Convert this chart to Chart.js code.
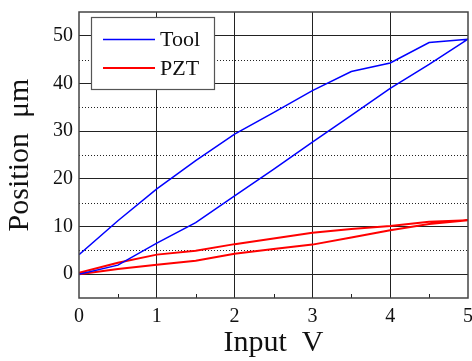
<!DOCTYPE html>
<html>
<head>
<meta charset="utf-8">
<title>Tool / PZT</title>
<script src="https://cdn.jsdelivr.net/npm/chart.js@4.4.1/dist/chart.umd.min.js"></script>
<style>
  body { margin: 0; background: #fff; }
  #wrap { width: 472px; height: 361px; }
</style>
</head>
<body>
<div id="wrap"><canvas id="grafico" width="472" height="361"></canvas></div>
<script>
// input voltage, going up then coming back down
const voltsUp = [0, 0.5, 1, 1.5, 2, 2.5, 3, 3.5, 4, 4.5, 5];
const voltsDown = [5, 4.5, 4, 3.5, 3, 2.5, 2, 1.5, 1, 0.5, 0];

// position in um
const toolUp = [0, 1.9, 6.5, 10.8, 16.4, 22.0, 27.7, 33.3, 39.0, 44.0, 49.3];
const toolDown = [49.3, 48.6, 44.3, 42.5, 38.5, 33.9, 29.4, 23.8, 17.9, 11.2, 4.1];
const pztUp = [0, 1.1, 2.0, 2.8, 4.3, 5.3, 6.2, 7.7, 9.2, 10.5, 11.3];
const pztDown = [11.3, 11.0, 10.1, 9.5, 8.7, 7.5, 6.3, 4.9, 4.1, 2.4, 0.3];

const xTicks = [0, 1, 2, 3, 4, 5];
const xMinorTicks = [0.5, 1.5, 2.5, 3.5, 4.5];
const yTicks = [0, 10, 20, 30, 40, 50];
const yMinorGrid = [5, 15, 25, 35, 45];

const serif = "'Liberation Serif', 'Times New Roman', serif";

function loop(up, down) {
    const ida = voltsUp.map((v, i) => ({ x: v, y: up[i] }));
    const vuelta = voltsDown.map((v, i) => ({ x: v, y: down[i] }));
    return ida.concat(vuelta);
}

// no extra room for the end labels, the frame goes edge to edge
function sinPadding(s) {
    s.paddingLeft = 0;
    s.paddingRight = 0;
    s.paddingTop = 0;
    s.paddingBottom = 0;
}

// dotted half-step lines, minor ticks and the frame
const extras = {
    id: 'extras',
    beforeDatasetsDraw(chart) {
        const { ctx, chartArea: a, scales } = chart;
        ctx.save();
        ctx.strokeStyle = '#222';
        ctx.lineWidth = 1;
        ctx.setLineDash([1, 2]);
        yMinorGrid.forEach(v => {
            const y = Math.round(scales.y.getPixelForValue(v)) + 0.5;
            ctx.beginPath();
            ctx.moveTo(a.left, y);
            ctx.lineTo(a.right, y);
            ctx.stroke();
        });
        ctx.setLineDash([]);
        xMinorTicks.forEach(v => {
            const x = Math.round(scales.x.getPixelForValue(v)) + 0.5;
            ctx.beginPath();
            ctx.moveTo(x, a.bottom);
            ctx.lineTo(x, a.bottom - 4);
            ctx.stroke();
        });
        ctx.restore();
    },
    afterDraw(chart) {
        const { ctx, chartArea: a } = chart;
        ctx.save();
        ctx.strokeStyle = '#444';
        ctx.lineWidth = 1.5;
        ctx.strokeRect(Math.round(a.left), Math.round(a.top), Math.round(a.right - a.left), Math.round(a.bottom - a.top));

        // legend box in the upper left corner
        ctx.fillStyle = '#fff';
        ctx.fillRect(91.5, 17.5, 123, 72);
        ctx.lineWidth = 1.2;
        ctx.strokeStyle = '#555';
        ctx.strokeRect(91.5, 17.5, 123, 72);
        ctx.font = '22px ' + serif;
        ctx.textBaseline = 'middle';
        chart.data.datasets.forEach((ds, i) => {
            const y = 39.5 + i * 28.5;
            ctx.strokeStyle = ds.borderColor;
            ctx.lineWidth = ds.borderWidth;
            ctx.beginPath();
            ctx.moveTo(103, y);
            ctx.lineTo(155, y);
            ctx.stroke();
            ctx.fillStyle = '#111';
            ctx.fillText(ds.label, 160, y + 1);
        });
        ctx.restore();
    }
};

let chart;

function dibujarGrafico() {
    const ctx = document.getElementById('grafico').getContext('2d');
    chart = new Chart(ctx, {
        type: 'line',
        data: {
            datasets: [{
                label: 'Tool',
                data: loop(toolUp, toolDown),
                borderColor: '#0000ff',
                borderWidth: 1.5
            }, {
                label: 'PZT',
                data: loop(pztUp, pztDown),
                borderColor: '#ff0000',
                borderWidth: 2
            }]
        },
        plugins: [extras],
        options: {
            responsive: false,
            animation: false,
            devicePixelRatio: 1,
            layout: { padding: { top: 12, right: 4, left: 0, bottom: 0 } },
            elements: { point: { radius: 0 }, line: { tension: 0 } },
            plugins: { legend: { display: false }, tooltip: { enabled: false } },
            scales: {
                x: {
                    type: 'linear',
                    min: 0,
                    max: 5,
                    afterBuildTicks: s => { s.ticks = xTicks.map(v => ({ value: v })); },
                    afterFit: s => { s.height = 63; sinPadding(s); },
                    ticks: { font: { family: serif, size: 20 }, color: '#111', padding: 7, maxRotation: 0 },
                    grid: {
                        drawTicks: false,
                        color: c => (c.tick && (c.tick.value === 0 || c.tick.value === 5)) ? 'rgba(0,0,0,0)' : '#222'
                    },
                    border: { display: false },
                    title: { display: true, text: 'Input  V', font: { family: serif, size: 30 }, color: '#111', padding: { top: -2, bottom: 0 } }
                },
                y: {
                    type: 'linear',
                    min: -5,
                    max: 55,
                    afterBuildTicks: s => { s.ticks = yTicks.map(v => ({ value: v })); },
                    afterFit: s => { s.width = 79; sinPadding(s); },
                    ticks: { font: { family: serif, size: 20 }, color: '#111', padding: 6 },
                    grid: { drawTicks: false, color: '#222' },
                    border: { display: false },
                    title: { display: true, text: 'Position  μm', font: { family: serif, size: 30 }, color: '#111', padding: { top: 2, bottom: 0 } }
                }
            }
        }
    });
}

dibujarGrafico();
</script>
</body>
</html>
